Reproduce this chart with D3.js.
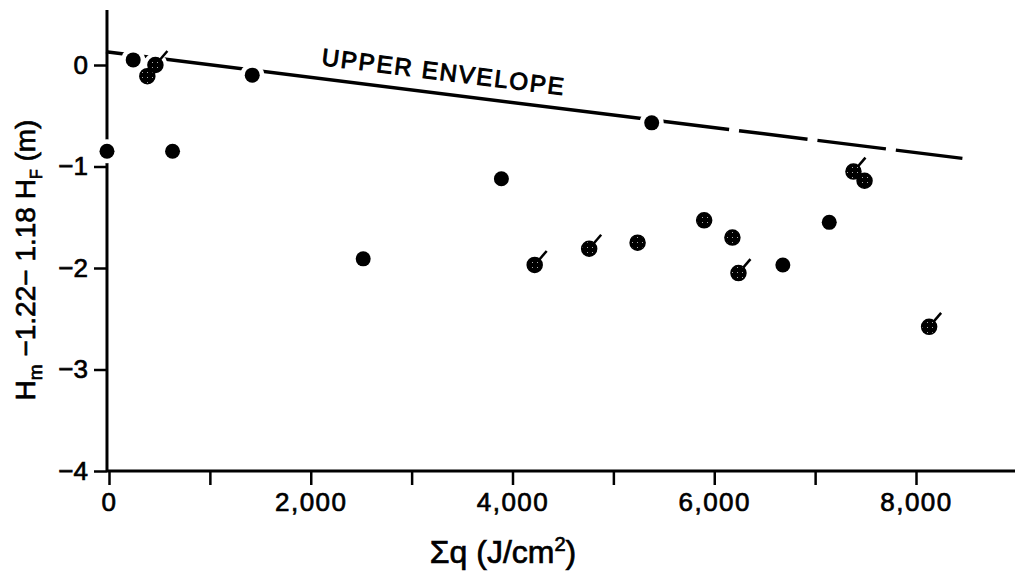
<!DOCTYPE html>
<html>
<head>
<meta charset="utf-8">
<script src="https://cdn.jsdelivr.net/npm/d3@7"></script>
<style>
  body { margin: 0; background: #fff; }
  text { font-family: "Liberation Sans", Arial, Helvetica, sans-serif; fill: #000; stroke: #000; stroke-width: 0.7px; }
</style>
</head>
<body>
<div id="chart"></div>
<script>
// observations: sum of heat flux vs Hm - 1.22 - 1.18 HF
const qValues = [-20, 240, 380, 460, 630, 1420, 2520, 3890, 4220, 4760, 5240, 5380, 5900, 6180, 6240, 6680, 7140, 7380, 7490, 8130];
const hValues = [-0.85, 0.05, -0.11, 0.0, -0.85, -0.10, -1.91, -1.12, -1.97, -1.81, -1.75, -0.57, -1.53, -1.70, -2.05, -1.97, -1.55, -1.05, -1.14, -2.58];
const speckled = [false, false, true, true, false, false, false, false, true, true, true, false, true, true, true, false, false, true, true, true];
const flagged = [false, false, false, true, false, false, false, false, true, true, false, false, false, false, true, false, false, true, false, true];

// upper envelope: solid part then dashed part
const envSolidX = [-30, 5380];
const envSolidY = [0.13, -0.54];
const envDashX = [5380, 8460];
const envDashY = [-0.54, -0.92];

const xTicks = [0, 1000, 2000, 3000, 4000, 5000, 6000, 7000, 8000];
const xTickLabels = ['0', '', '2,000', '', '4,000', '', '6,000', '', '8,000'];
const yTicks = [0, -1, -2, -3, -4];
const yTickLabels = ['0', '\u22121', '\u22122', '\u22123', '\u22124'];

const width = 1015, height = 573;

const x = d3.scaleLinear().domain([0, 8000]).range([109, 916]);
const y = d3.scaleLinear().domain([-4, 0]).range([471, 65]);

const svg = d3.select('#chart').append('svg')
  .attr('width', width)
  .attr('height', height);

const defs = svg.append('defs');
const pat = defs.append('pattern')
  .attr('id', 'speck')
  .attr('patternUnits', 'userSpaceOnUse')
  .attr('width', 5).attr('height', 5);
pat.append('rect').attr('width', 5).attr('height', 5).attr('fill', '#000');
pat.append('rect').attr('x', 2).attr('y', 2).attr('width', 1).attr('height', 1).attr('fill', '#aaa');

// x axis
const xAxis = d3.axisBottom(x)
  .tickValues(xTicks)
  .tickFormat((d, i) => xTickLabels[i])
  .tickSize(14)
  .tickPadding(8);
const gx = svg.append('g')
  .attr('transform', `translate(0,${y(-4)})`)
  .call(xAxis);
gx.select('.domain').remove();
gx.append('line')
  .attr('x1', x(-20)).attr('x2', width)
  .attr('y1', 0).attr('y2', 0)
  .attr('stroke', '#000').attr('stroke-width', 3);
gx.selectAll('.tick line').attr('stroke', '#000').attr('stroke-width', 2.5);
gx.selectAll('.tick text')
  .style('font-size', '26px')
  .style('letter-spacing', '1.5px')
  .attr('fill', '#000');

// y axis
const yAxis = d3.axisLeft(y)
  .tickValues(yTicks)
  .tickFormat((d, i) => yTickLabels[i])
  .tickSize(13)
  .tickPadding(6);
const gy = svg.append('g')
  .attr('transform', `translate(${x(-20)},0)`)
  .call(yAxis);
gy.select('.domain').remove();
gy.append('line')
  .attr('x1', 0).attr('x2', 0)
  .attr('y1', 10).attr('y2', y(-4))
  .attr('stroke', '#000').attr('stroke-width', 3);
gy.selectAll('.tick line').attr('stroke', '#000').attr('stroke-width', 2.5);
gy.selectAll('.tick text')
  .style('font-size', '26px')
  .attr('fill', '#000');

// envelope
const line = d3.line().x(d => x(d[0])).y(d => y(d[1]));
svg.append('path')
  .datum(envSolidX.map((v, i) => [v, envSolidY[i]]))
  .attr('d', line)
  .attr('fill', 'none').attr('stroke', '#000').attr('stroke-width', 3.5);
svg.append('path')
  .datum(envDashX.map((v, i) => [v, envDashY[i]]))
  .attr('d', line)
  .attr('fill', 'none').attr('stroke', '#000').attr('stroke-width', 3.5)
  .attr('stroke-dasharray', '69,10')
  .attr('stroke-dashoffset', -9);

svg.append('text')
  .attr('transform', 'translate(321,65) rotate(7.1)')
  .style('font-size', '24px')
  .style('stroke-width', '1px')
  .style('letter-spacing', '1.9px')
  .text('UPPER ENVELOPE');

// points
const pts = qValues.map((q, i) => ({ q, h: hValues[i], speck: speckled[i], flag: flagged[i] }));

svg.append('g').selectAll('circle')
  .data(pts)
  .enter()
  .append('circle')
  .attr('cx', d => x(d.q))
  .attr('cy', d => y(d.h))
  .attr('r', 12)
  .attr('fill', '#fff');

svg.append('g').selectAll('line')
  .data(pts.filter(d => d.flag))
  .enter()
  .append('line')
  .attr('x1', d => x(d.q))
  .attr('y1', d => y(d.h))
  .attr('x2', d => x(d.q) + 12)
  .attr('y2', d => y(d.h) - 14)
  .attr('stroke', '#000')
  .attr('stroke-width', 2.5);

svg.append('g').selectAll('circle')
  .data(pts)
  .enter()
  .append('circle')
  .attr('cx', d => x(d.q))
  .attr('cy', d => y(d.h))
  .attr('r', 7.5)
  .attr('fill', d => d.speck ? 'url(#speck)' : '#000')
  .attr('stroke', '#000')
  .attr('stroke-width', d => d.speck ? 1.5 : 0);

// axis titles
const yt = svg.append('text')
  .attr('transform', 'translate(35,260) rotate(-90)')
  .attr('text-anchor', 'middle')
  .style('font-size', '28px');
yt.append('tspan').text('H');
yt.append('tspan').attr('dy', 7).style('font-size', '19px').text('m');
yt.append('tspan').attr('dy', -7).text(' \u22121.22\u2212 1.18 H');
yt.append('tspan').attr('dy', 7).style('font-size', '16px').text('F');
yt.append('tspan').attr('dy', -7).text(' (m)');

const xt = svg.append('text')
  .attr('x', 503)
  .attr('y', 563)
  .attr('text-anchor', 'middle')
  .style('font-size', '32px');
xt.append('tspan').text('\u03A3q (J/cm');
xt.append('tspan').attr('dy', -12).style('font-size', '20px').text('2');
xt.append('tspan').attr('dy', 12).text(')');
</script>
</body>
</html>
